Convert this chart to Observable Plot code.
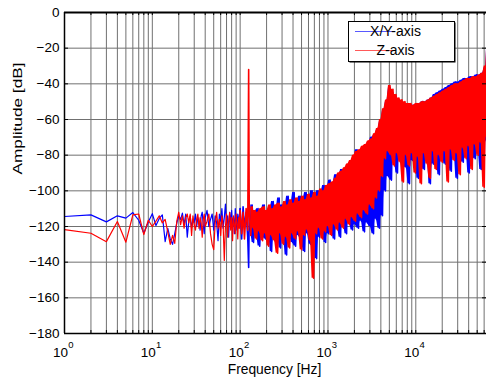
<!DOCTYPE html>
<html><head><meta charset="utf-8">
<script src="https://cdn.jsdelivr.net/npm/d3@7"></script>
<script src="https://cdn.jsdelivr.net/npm/@observablehq/plot@0.6"></script>
<style>html,body{margin:0;padding:0;background:#fff;overflow:hidden}</style>
</head><body><div id="chart"></div>
<script>
// Frequencies [Hz]
const freq = [
  1,2,3,4,5,6,7,8,9,10,11,12,13,14,15,16,17,18,19,20,21,22,23,24,25,26,27,28,29,30,31,32,33,34,35,36,37,38,39,40,
  42,44,46,48,50,52,54,56,58,60,62,64,66,68,70,72,74,76,78,80,82,84,86,88,90,92,94,96,98,
  100,104,108,112,117,122,125,127,132,137,142,148,154,160,167,173,180,188,195,203,211,220,228,238,247,257,267,278,289,301,
  313,325,338,352,366,381,396,412,428,445,463,482,501,521,542,564,586,610,634,660,686,714,742,772,803,835,869,903,940,977,
  1016,1057,1099,1143,1189,1237,1286,1338,1391,1447,1505,1565,1628,1693,1761,1831,1905,1981,2060,2143,2228,2318,2410,2507,2607,2712,2820,2933,3051,3173,
  3300,3432,3569,3712,3861,4015,4176,4343,4517,4698,4886,5081,5285,5496,5716,5945,6183,6430,6688,6955,7234,7523,7824,8137,8463,8802,9154,9520,9901,10297,
  10709,11137,11583,12046,12528,13029,13550,14093,14656,15243,15852,16486,17146,17832,18545,19287,20058,20861,21695,22563,23466,24404,25380,26396,27452,28550,29692,30879,32114,33399,
  34735,36125,37570,39072,40635,42261,43951,45709,47538,49439,51417,53474,55613,57837,60151,62557,64500,65536
];
// X/Y-axis amplitude [dB]
const xy = [
  -114.4,-113.5,-117.4,-114,-115.3,-112.2,-116.5,-123.8,-117.5,-112.8,-119.5,-115.5,-113.5,-128.5,-121,-127,-130,-124,-118,-114,
  -116,-112.5,-119,-113,-126,-117,-114,-121,-116,-118,-113,-120,-115,-117,-122,-114,-112,-119,-124,-115,
  -111,-120,-116,-113,-122,-114,-118,-128,-113,-117,-110,-121,-115,-107.5,-119,-114,-126,-112,-118,-111,-120,-115,-124,-110,-117,-122,-113,-119,-114,
  -110,-127,-109,-121,-112,-126,-143,-111,-123,-108,-129,-112,-124,-110,-131,-113,-125,-108,-127,-112,-122,-110,-134,-106,-126,-111,-124,-104,-132,-108,
  -125,-109,-136,-103,-124,-107,-129,-101,-131,-106,-125,-103,-127,-105,-134,-101,-124,-104,-130,-100,-127,-103,-138,-100,-126,-101,-123,-97,-129,-99,
  -124,-94,-121,-96,-127,-91,-120,-92,-126,-88,-119,-89,-124,-86,-117,-84,-122,-82,-119,-77,-121,-79,-117,-76,-123,-75,-118,-73,-120,-70,
  -124,-69,-116,-66,-121,-61,-114,-55,-100,-50,-92,-42,-94,-45,-83,-47,-90,-49,-81,-50,-85,-51,-87,-52,-96,-52,-83,-52,-81,-52,
  -93,-51,-84,-50,-88,-50,-79,-49,-96,-48,-85,-46,-80,-45,-91,-44,-78,-43,-85,-42,-80,-41,-89,-40,-78,-39,-93,-39,-80,-38,
  -84,-37,-77,-37,-90,-36,-78,-36,-82,-35,-76,-35,-88,-34,-80,-31,-72,-15
];
// Z-axis amplitude [dB]
const z = [
  -121.7,-123.8,-128.5,-117.2,-128.8,-113.5,-113,-124.5,-116.5,-120,-117,-114,-118,-116,-123,-130,-125,-129.5,-117,-112,
  -119,-114,-121,-115,-113,-118,-113,-125,-114,-119,-122,-116,-113,-121,-115,-118,-126,-116,-113,-120,
  -117,-113,-124,-130,-133,-118,-112,-121,-116,-125,-114,-119,-139,-120,-113,-126,-117,-112,-122,-115,-128,-114,-119,-124,-113,-118,-127,-115,-121,
  -111,-124,-112,-127,-110,-122,-32,-113,-125,-109,-121,-111,-127,-112,-123,-110,-128,-109,-124,-111,-131,-108,-125,-110,-128,-108,-135,-107,-124,-109,
  -130,-106,-126,-108,-132,-105,-124,-107,-127,-104,-123,-106,-133,-103,-125,-105,-122,-102,-128,-104,-149,-101,-124,-103,-121,-99,-127,-100,-123,-97,
  -120,-96,-125,-95,-119,-93,-122,-90,-118,-89,-121,-87,-116,-85,-119,-83,-115,-80,-117,-78,-113,-77,-115,-75,-111,-74,-113,-72,-108,-71,
  -110,-68,-104,-65,-100,-60,-92,-54,-82,-49,-78,-41,-80,-43,-86,-46,-79,-48,-84,-49,-95,-50,-80,-51,-86,-51,-79,-52,-90,-51,
  -81,-51,-96,-50,-79,-50,-85,-49,-93,-48,-78,-47,-88,-46,-80,-45,-84,-44,-78,-43,-95,-42,-77,-41,-83,-40,-79,-40,-91,-39,
  -76,-38,-82,-37,-75,-37,-88,-36,-74,-36,-80,-35,-73,-34,-98,-30,-70,-16
];
const yTicks = [0,-20,-40,-60,-80,-100,-120,-140,-160,-180];
const xGrid = [1,2,3,4,5,6,7,8,9,10,20,30,40,50,60,70,80,90,100,200,300,400,500,600,700,800,900,
  1000,2000,3000,4000,5000,6000,7000,8000,9000,10000,20000,30000,40000,50000,60000];
const xLabelTicks = [1,10,100,1000,10000];
const xLabelBase = ["10","10","10","10","10"];
const xLabelExp = ["0","1","2","3","4"];
const seriesNames = ["X/Y-axis","Z-axis"];
const seriesColors = ["#0000ff","#ff0000"];
const xTitle = "Frequency [Hz]";
const yTitle = "Amplitude [dB]";

const rows = freq.map((f, i) => ({f, xy: xy[i], z: z[i]}));
const low = rows.filter(d => d.f <= 100);
const high = rows.filter(d => d.f >= 100);
// band fill between neighbouring samples (dense part, above the 125 Hz line)
const dense = rows.filter(d => d.f >= 132);
const band = dense.map((d, i) => {
  const n = dense[Math.min(i + 1, dense.length - 1)];
  return {f: d.f,
    xyHi: Math.max(d.xy, n.xy), xyLo: Math.min(d.xy, n.xy),
    zHi: Math.max(d.z, n.z), zLo: Math.min(d.z, n.z)};
});
const tickRows = xLabelTicks.map((t, i) => ({t, base: xLabelBase[i], e: xLabelExp[i]}));
const font = "'Liberation Sans', Arial, sans-serif";
const grid = "#707070";

const plot = Plot.plot({
  width: 486, height: 378,
  marginLeft: 64, marginRight: 0, marginTop: 12, marginBottom: 45,
  style: {fontFamily: font, fontSize: "13.5px", color: "#000", background: "#fff"},
  x: {type: "log", domain: [1, 65536], range: [64, 487], axis: null},
  y: {domain: [-180, 0], axis: null},
  marks: [
    Plot.ruleY(yTicks, {stroke: grid, strokeWidth: 1}),
    Plot.ruleX(xGrid, {stroke: grid, strokeWidth: 1}),
    Plot.areaY(band, {x: "f", y1: "xyLo", y2: "xyHi", fill: seriesColors[0]}),
    Plot.line(low, {x: "f", y: "xy", stroke: seriesColors[0], strokeWidth: 1.2}),
    Plot.line(high, {x: "f", y: "xy", stroke: seriesColors[0], strokeWidth: 1.6}),
    Plot.areaY(band, {x: "f", y1: "zLo", y2: "zHi", fill: seriesColors[1]}),
    Plot.line(low, {x: "f", y: "z", stroke: seriesColors[1], strokeWidth: 1.2}),
    Plot.line(high, {x: "f", y: "z", stroke: seriesColors[1], strokeWidth: 1.6}),
    // inward ticks
    Plot.ruleY(yTicks, {stroke: "#000", insetRight: 418}),
    Plot.ruleY(yTicks, {stroke: "#000", insetLeft: 418}),
    Plot.ruleX(xGrid, {stroke: "#000", insetBottom: 318}),
    Plot.ruleX(xGrid, {stroke: "#000", insetTop: 318}),
    // axis lines
    Plot.ruleX([1], {stroke: "#000", strokeWidth: 1.5}),
    Plot.ruleY([0], {stroke: "#000", strokeWidth: 2}),
    Plot.ruleY([-180], {stroke: "#000", strokeWidth: 1.5}),
    Plot.axisY({ticks: yTicks, tickSize: 0, tickPadding: 5, label: null, fontSize: 13.5}),
    Plot.text(tickRows, {x: "t", y: () => -180, text: "base", dx: -4, dy: 23, lineAnchor: "bottom", textAnchor: "middle", fontSize: 13.5}),
    Plot.text(tickRows, {x: "t", y: () => -180, text: "e", dx: 3.8, dy: 14, lineAnchor: "bottom", textAnchor: "start", fontSize: 9.5}),
    Plot.text([xTitle], {frameAnchor: "bottom", dx: -1, dy: 40, lineAnchor: "bottom", fontSize: 13.8}),
    Plot.text([yTitle], {frameAnchor: "left", dx: -43, dy: 1.5, rotate: -90, lineAnchor: "bottom", fontSize: 13.5})
  ]
});

const svg = d3.select(plot);
svg.selectAll("text").filter(function(){ return this.textContent === yTitle; })
  .attr("textLength", 112).attr("lengthAdjust", "spacingAndGlyphs");

// legend
const lg = svg.append("g").attr("font-family", font).attr("font-size", 14);
lg.append("rect").attr("x", 349.5).attr("y", 22.5).attr("width", 106).attr("height", 40).attr("fill", "#000");
lg.append("rect").attr("x", 348.5).attr("y", 21.5).attr("width", 106).attr("height", 40).attr("fill", "#fff").attr("stroke", "#000");
seriesNames.forEach((name, i) => {
  const yy = 31.5 + i * 19;
  lg.append("line").attr("x1", 355).attr("x2", 393).attr("y1", yy).attr("y2", yy)
    .attr("stroke", seriesColors[i]).attr("stroke-width", 1).attr("stroke-opacity", 0.65);
  lg.append("text").attr("x", 395.5).attr("y", yy + 4.8).attr("fill", "#000").text(name);
});

document.getElementById("chart").append(plot);
</script>
</body></html>
